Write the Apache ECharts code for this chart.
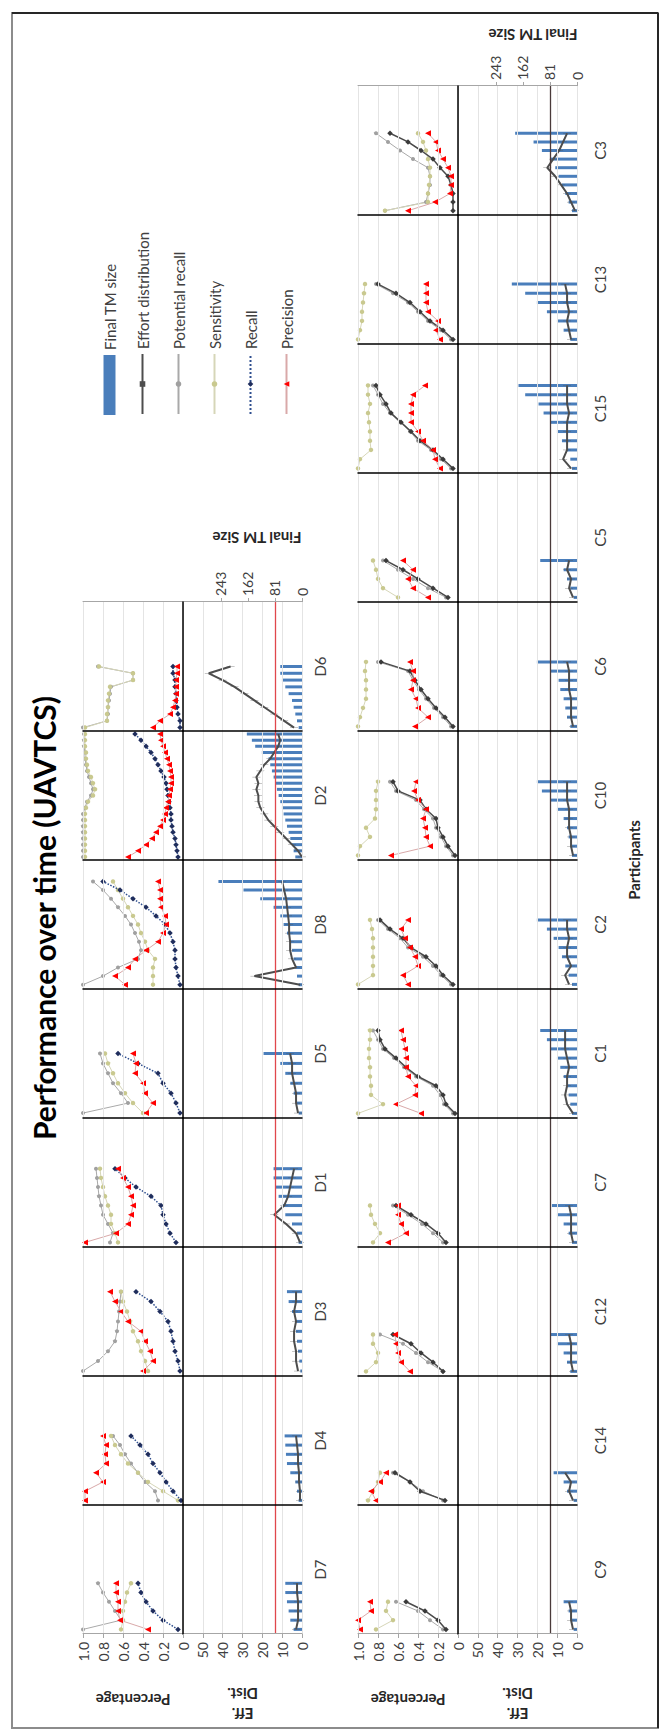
<!DOCTYPE html>
<html>
<head>
<meta charset="utf-8">
<script src="https://cdn.jsdelivr.net/npm/echarts@6/dist/echarts.min.js"></script>
<style>
  html, body { margin: 0; padding: 0; background: #fff; width: 662px; height: 1732px; overflow: hidden; }
  /* the landscape chart is laid out at 1732x662 and turned a quarter turn to fit the portrait page */
  #chart { position: absolute; left: 0; top: 0; width: 1732px; height: 662px;
           transform-origin: 0 0; transform: translate(0, 1732px) rotate(-90deg); }
</style>
</head>
<body>
<div id="chart"></div>
<script>
// ---- participants (one panel each) ----
const topParticipants = ['D7', 'D4', 'D3', 'D1', 'D5', 'D8', 'D2', 'D6'];
const bottomParticipants = ['C9', 'C14', 'C12', 'C7', 'C1', 'C2', 'C10', 'C6', 'C5', 'C15', 'C13', 'C3'];

// number of time slots on each panel's time axis
const topSlots = [14, 14, 13, 14, 13, 15, 21, 19];
const bottomSlots = [14, 14, 14, 14, 14, 14, 14, 14, 14, 14, 14, 15];

// ---- axis ticks ----
const percentageTicks = [0, 0.2, 0.4, 0.6, 0.8, 1.0];
const effortTicks = [0, 10, 20, 30, 40, 50];
const tmSizeTicks = [0, 81, 162, 243];
const tmSizeReference = 81;

// ---- top row (D participants) ----
const tmSizeTop = [
  [25, 35, 40, 45, 50, 50],
  [10, 15, 20, 35, 45, 48, 50, 52],
  [5, 8, 12, 15, 18, 20, 30, 40, 45],
  [10, 15, 30, 50, 60, 70, 80, 85, 85],
  [10, 15, 25, 35, 50, 65, 115],
  [10, 15, 20, 25, 30, 35, 45, 55, 65, 85, 125, 175, 250],
  [20, 25, 30, 35, 40, 45, 50, 55, 60, 65, 70, 75, 80, 85, 90, 95, 100, 120, 140, 150, 165],
  [10, 15, 20, 25, 30, 40, 50, 60, 65, 65]
];
const effortTop = [
  [3, 2, 2, 2, 2.5, 2.5],
  [1, 1, 1.5, 1.5, 2, 2, 2.5, 3],
  [2, 3, 3, 4, 4, 3, 4, 3, 3],
  [1, 3, 8, 14, 9, 7, 6, 5, 4],
  [2, 3, 3, 4, 5, 5, 6],
  [1, 24, 3, 5, 6, 6, 6.5, 6.5, 7, 7.5, 8, 9, 10],
  [0, 2, 5, 8, 11, 14, 17, 19, 21, 22, 22, 23, 22, 23, 21, 19, 16, 14, 12, 11, 12],
  [4, 9, 14, 19, 24, 29, 34, 40, 47, 36]
];
const potentialTop = [
  [1.0, 0.62, 0.68, 0.74, 0.8, 0.85],
  [0.25, 0.28, 0.38, 0.45, 0.52, 0.58, 0.63, 0.7],
  [1.0, 0.85, 0.75, 0.68, 0.66, 0.65, 0.64, 0.63, 0.62],
  [0.73, 0.7, 0.75, 0.8, 0.82, 0.84, 0.85, 0.86, 0.87],
  [1.0, 0.55, 0.62, 0.7, 0.75, 0.8, 0.83],
  [1.0, 0.8, 0.65, 0.45, 0.42, 0.44, 0.48, 0.52, 0.58, 0.65, 0.72, 0.8, 0.9],
  [1, 1, 1, 1, 1, 1, 1, 1, 0.98, 0.96, 0.92, 0.9, 0.92, 0.94, 0.96, 0.97, 0.98, 0.98, 0.99, 0.99, 0.99],
  [1.0, 0.76, 0.75, 0.75, 0.74, 0.73, 0.72, 0.5, 0.5, 0.85]
];
const sensitivityTop = [
  [0.62, 0.6, 0.6, 0.58, 0.56, 0.52],
  [0.05, 0.2, 0.35, 0.45, 0.55, 0.62, 0.68, 0.72],
  [0.35, 0.38, 0.42, 0.45, 0.5, 0.53, 0.56, 0.6, 0.62],
  [0.65, 0.68, 0.72, 0.72, 0.75, 0.78, 0.8, 0.82, 0.83],
  [0.4, 0.5, 0.58, 0.65, 0.7, 0.75, 0.78],
  [0.3, 0.3, 0.3, 0.28, 0.35, 0.38, 0.42, 0.45, 0.5, 0.55, 0.6, 0.65, 0.7],
  [0.98, 0.98, 0.98, 0.98, 0.98, 0.98, 0.98, 0.98, 0.97, 0.95, 0.9, 0.88, 0.9, 0.92, 0.95, 0.96, 0.97, 0.97, 0.98, 0.98, 0.98],
  [0.98, 0.76, 0.76, 0.75, 0.75, 0.74, 0.73, 0.5, 0.5, 0.84]
];
const recallTop = [
  [0.05, 0.2, 0.3, 0.37, 0.42, 0.45],
  [0.02, 0.1, 0.17, 0.23, 0.3, 0.35, 0.43, 0.52],
  [0.03, 0.05, 0.08, 0.1, 0.12, 0.15, 0.23, 0.32, 0.47],
  [0.07, 0.13, 0.17, 0.2, 0.22, 0.32, 0.47, 0.58, 0.68],
  [0.03, 0.07, 0.12, 0.2, 0.25, 0.45, 0.65],
  [0.03, 0.05, 0.07, 0.08, 0.08, 0.1, 0.13, 0.18, 0.27, 0.37, 0.5, 0.63, 0.8],
  [0.05, 0.06, 0.07, 0.08, 0.1, 0.11, 0.12, 0.12, 0.13, 0.14, 0.15, 0.16, 0.17, 0.19, 0.22, 0.25, 0.28, 0.32, 0.37, 0.42, 0.48],
  [0.03, 0.03, 0.05, 0.06, 0.07, 0.07, 0.08, 0.08, 0.1, 0.1]
];
const precisionTop = [
  [0.35, 0.63, 0.65, 0.65, 0.67, 0.67],
  [0.98, 0.98, 0.8, 0.87, 0.77, 0.78, 0.77, 0.8],
  [0.4, 0.3, 0.33, 0.38, 0.42, 0.55, 0.62, 0.68, 0.73],
  [0.98, 0.67, 0.55, 0.52, 0.5, 0.52, 0.55, 0.6, 0.65],
  [0.37, 0.3, 0.38, 0.4, 0.48, 0.47, 0.5],
  [0.58, 0.68, 0.55, 0.48, 0.37, 0.25, 0.2, 0.17, 0.18, 0.22, 0.23, 0.23, 0.25],
  [0.55, 0.45, 0.37, 0.31, 0.27, 0.23, 0.2, 0.18, 0.17, 0.15, 0.14, 0.13, 0.12, 0.12, 0.13, 0.14, 0.16, 0.18, 0.2, 0.22, 0.23],
  [0.3, 0.23, 0.13, 0.1, 0.08, 0.07, 0.07, 0.07, 0.06, 0.06]
];

// ---- bottom row (C participants) ----
const tmSizeBottom = [
  [10, 15, 25, 40],
  [10, 30, 40, 70],
  [20, 30, 40, 60, 80],
  [15, 25, 40, 60, 75],
  [15, 20, 25, 30, 40, 50, 60, 80, 90, 110],
  [15, 25, 35, 45, 55, 70, 90, 120],
  [15, 20, 25, 30, 40, 60, 80, 105, 120],
  [20, 30, 35, 40, 50, 55, 80, 120],
  [10, 20, 30, 40, 110],
  [15, 20, 30, 45, 60, 80, 100, 115, 155, 175],
  [20, 40, 60, 90, 120, 155, 195],
  [15, 25, 35, 45, 55, 65, 80, 105, 130, 185]
];
const effortBottom = [
  [2, 3, 3, 4],
  [2, 4, 3, 6],
  [2, 3, 3, 3, 4],
  [2, 3, 3, 3, 4],
  [2, 5, 6, 5, 5, 4, 5, 6, 6, 6],
  [4, 6, 3, 5, 5, 4, 5, 5],
  [2, 3, 3, 4, 4, 4, 5, 5, 5],
  [2, 3, 3, 3, 4, 4, 4, 5],
  [2, 4, 3, 5, 4],
  [3, 7, 5, 5, 5, 5, 4, 5, 5, 5],
  [3, 4, 5, 4, 5, 5, 6],
  [1, 3, 5, 8, 11, 15, 12, 9, 7, 5]
];
const potentialBottom = [
  [0.15, 0.28, 0.4, 0.62],
  [0.15, 0.35, 0.48, 0.65],
  [0.15, 0.3, 0.42, 0.55, 0.78],
  [0.15, 0.25, 0.36, 0.5, 0.65],
  [0.05, 0.14, 0.18, 0.25, 0.42, 0.54, 0.64, 0.75, 0.8, 0.85],
  [0.07, 0.17, 0.25, 0.35, 0.5, 0.58, 0.7, 0.8],
  [0.05, 0.12, 0.17, 0.22, 0.25, 0.34, 0.42, 0.62, 0.68],
  [0.07, 0.15, 0.24, 0.32, 0.39, 0.45, 0.5, 0.8],
  [0.12, 0.3, 0.45, 0.6, 0.75],
  [0.07, 0.17, 0.27, 0.4, 0.48, 0.58, 0.68, 0.75, 0.8, 0.85],
  [0.07, 0.17, 0.3, 0.4, 0.5, 0.65, 0.82],
  [0.73, 0.32, 0.3, 0.28, 0.28, 0.3, 0.45, 0.58, 0.7, 0.82]
];
const sensitivityBottom = [
  [0.82, 0.65, 0.72, 0.7],
  [0.9, 0.85, 0.8, 0.78],
  [0.92, 0.82, 0.8, 0.85, 0.85],
  [0.85, 0.78, 0.83, 0.87, 0.88],
  [1.0, 0.75, 0.87, 0.87, 0.88, 0.88, 0.89, 0.89, 0.88, 0.88],
  [1.0, 0.85, 0.85, 0.85, 0.85, 0.85, 0.86, 0.88],
  [1.0, 0.98, 0.88, 0.92, 0.83, 0.82, 0.82, 0.82, 0.8],
  [1.0, 0.98, 0.95, 0.92, 0.92, 0.92, 0.93, 0.92],
  [0.6, 0.75, 0.8, 0.82, 0.85],
  [1.0, 0.98, 0.87, 0.88, 0.88, 0.89, 0.9, 0.88, 0.9, 0.9],
  [1.0, 0.98, 0.96, 0.96, 0.95, 0.94, 0.93],
  [0.73, 0.3, 0.3, 0.29, 0.28, 0.28, 0.3, 0.32, 0.35, 0.4]
];
const recallBottom = [
  [0.12, 0.2, 0.33, 0.52],
  [0.13, 0.38, 0.48, 0.63],
  [0.15, 0.25, 0.37, 0.47, 0.65],
  [0.12, 0.2, 0.32, 0.47, 0.62],
  [0.03, 0.12, 0.15, 0.22, 0.4, 0.52, 0.62, 0.73, 0.78, 0.8],
  [0.05, 0.15, 0.22, 0.32, 0.47, 0.55, 0.68, 0.78],
  [0.03, 0.1, 0.15, 0.2, 0.22, 0.32, 0.38, 0.6, 0.65],
  [0.05, 0.13, 0.22, 0.3, 0.37, 0.43, 0.48, 0.77],
  [0.1, 0.25, 0.4, 0.55, 0.72],
  [0.05, 0.15, 0.25, 0.38, 0.47, 0.57, 0.67, 0.72, 0.78, 0.82],
  [0.05, 0.15, 0.28, 0.38, 0.48, 0.62, 0.8],
  [0.05, 0.05, 0.05, 0.07, 0.1, 0.18, 0.25, 0.37, 0.5, 0.68]
];
const precisionBottom = [
  [0.98, 1.0, 0.87, 0.88],
  [0.82, 0.87, 0.78, 0.72],
  [0.48, 0.57, 0.6, 0.62, 0.63],
  [0.7, 0.52, 0.57, 0.6, 0.6],
  [0.37, 0.62, 0.43, 0.42, 0.5, 0.52, 0.52, 0.53, 0.55, 0.57],
  [0.5, 0.55, 0.4, 0.43, 0.48, 0.53, 0.57, 0.5],
  [0.67, 0.28, 0.32, 0.33, 0.35, 0.32, 0.4, 0.44, 0.42],
  [0.43, 0.3, 0.4, 0.42, 0.47, 0.45, 0.45, 0.48],
  [0.3, 0.45, 0.5, 0.45, 0.55],
  [0.18, 0.23, 0.25, 0.35, 0.4, 0.47, 0.47, 0.47, 0.45, 0.33],
  [0.18, 0.22, 0.2, 0.3, 0.32, 0.32, 0.32],
  [0.5, 0.23, 0.08, 0.07, 0.07, 0.1, 0.15, 0.2, 0.22, 0.3]
];

// ---- drawing ----
const FONT = 'Lato, "Open Sans", sans-serif';
const TEXT = '#404040';
const PCT_MAX = percentageTicks[percentageTicks.length - 1];
const EFF_MAX = effortTicks[effortTicks.length - 1] + 10;   // one empty band above the labelled range
const TM_MAX = 356;
const EFFORT_MARK = 'path://M0,0H2V10H0Z';                // thin upright dash crossing the effort line

const grids = [], xAxes = [], yAxes = [], series = [];

function buildRow(names, slots, rows, layout, look) {
  const n = names.length;
  names.forEach((name, i) => {
    const left = layout.left + i * layout.panelW;
    const first = i === 0, last = i === n - 1;
    const cats = Array.from({ length: slots[i] }, (_, k) => String(k + 1));

    const gP = grids.length;
    grids.push({ left: left, top: layout.top, width: layout.panelW, height: layout.pctH });
    const gE = grids.length;
    grids.push({ left: left, top: layout.top + layout.pctH, width: layout.panelW, height: layout.effH });

    const xP = xAxes.length;
    xAxes.push({ type: 'category', gridIndex: gP, data: cats, boundaryGap: true, z: 6,
      axisLine: { show: true, lineStyle: { color: '#000', width: 1.5 } },
      axisTick: { show: false }, axisLabel: { show: false } });
    const xE = xAxes.length;
    xAxes.push({ type: 'category', gridIndex: gE, data: cats, boundaryGap: true,
      axisLine: { show: true, lineStyle: { color: '#bfbfbf', width: 1 } },
      axisTick: { show: false }, axisLabel: { show: false },
      name: name, nameLocation: 'middle', nameGap: layout.nameGap,
      nameTextStyle: { fontSize: 15, color: TEXT, fontFamily: FONT } });

    const sep = first ? { color: '#a6a6a6', width: 1 } : { color: '#000', width: 1.5 };
    const tickStyle = { show: first, length: 4, lineStyle: { color: '#a6a6a6' } };
    const labelStyle = { show: first, fontSize: 14, color: TEXT, fontFamily: FONT, margin: 8 };
    const grid = { show: true, lineStyle: { color: '#e4e4e4', width: 1 } };

    const yP = yAxes.length;
    yAxes.push({ type: 'value', gridIndex: gP, min: 0, max: PCT_MAX, interval: 0.2, z: 6,
      axisLine: { show: true, lineStyle: sep }, axisTick: tickStyle,
      axisLabel: Object.assign({}, labelStyle, { formatter: v => v === 0 ? '0' : v.toFixed(1) }),
      splitLine: grid,
      name: first ? 'Percentage' : '', nameLocation: 'middle', nameRotate: 90, nameGap: 58,
      nameTextStyle: { fontSize: 15, fontWeight: 'bold', color: '#262626', fontFamily: FONT } });
    const yE = yAxes.length;
    yAxes.push({ type: 'value', gridIndex: gE, min: 0, max: EFF_MAX, interval: 10, z: 6,
      axisLine: { show: true, lineStyle: sep }, axisTick: tickStyle,
      axisLabel: Object.assign({}, labelStyle, { formatter: v => v > effortTicks[effortTicks.length - 1] ? '' : String(v) }),
      splitLine: grid,
      name: first ? 'Eff.\nDist.' : '', nameLocation: 'middle', nameRotate: 90, nameGap: 50,
      nameTextStyle: { fontSize: 15, fontWeight: 'bold', color: '#262626', fontFamily: FONT, lineHeight: 20 } });
    const yT = yAxes.length;
    yAxes.push({ type: 'value', gridIndex: gE, position: 'right', min: 0, max: TM_MAX, interval: 81,
      axisLine: { show: last, lineStyle: { color: '#a6a6a6' } },
      axisTick: { show: last, length: 4, customValues: tmSizeTicks, lineStyle: { color: '#a6a6a6' } },
      axisLabel: { show: last, customValues: tmSizeTicks, fontSize: 14, color: TEXT, fontFamily: FONT, margin: 6,
        formatter: v => tmSizeTicks.indexOf(v) >= 0 ? String(v) : '' },
      splitLine: { show: false } });
    if (last) {
      yAxes.push({ type: 'value', gridIndex: gP, position: 'right', min: 0, max: PCT_MAX,
        axisLine: { show: true, lineStyle: { color: '#a6a6a6' } },
        axisTick: { show: false }, axisLabel: { show: false }, splitLine: { show: false } });
    }

    series.push({ name: 'Final TM size', type: 'bar', xAxisIndex: xE, yAxisIndex: yT,
      data: rows.tm[i], barWidth: 3, itemStyle: { color: '#4a7ebb' }, z: 2,
      markLine: { silent: true, symbol: 'none', label: { show: false },
        lineStyle: { color: look.refColor, width: 1.3, type: 'solid' },
        data: [{ yAxis: tmSizeReference }] } });
    series.push({ name: 'Effort distribution', type: 'line', xAxisIndex: xE, yAxisIndex: yE,
      data: rows.effort[i], symbol: EFFORT_MARK, symbolSize: [1.6, 8], symbolKeepAspect: true,
      showAllSymbol: true, z: 3,
      lineStyle: { color: '#4d4d4d', width: 2 }, itemStyle: { color: '#4d4d4d' } });
    series.push({ name: 'Potential recall', type: 'line', xAxisIndex: xP, yAxisIndex: yP,
      data: rows.potential[i], symbol: 'circle', symbolSize: 4, showAllSymbol: true, z: 3,
      lineStyle: { color: '#a9a9a9', width: 1 }, itemStyle: { color: '#a0a0a0' } });
    series.push({ name: 'Sensitivity', type: 'line', xAxisIndex: xP, yAxisIndex: yP,
      data: rows.sensitivity[i], symbol: 'circle', symbolSize: 4.5, showAllSymbol: true, z: 3,
      lineStyle: { color: '#d6d6b8', width: 1 }, itemStyle: { color: '#c9c98f' } });
    series.push({ name: 'Recall', type: 'line', xAxisIndex: xP, yAxisIndex: yP,
      data: rows.recall[i], symbol: 'diamond', symbolSize: 5.5, showAllSymbol: true, z: 4,
      lineStyle: look.recallLine, itemStyle: { color: look.recallMark } });
    series.push({ name: 'Precision', type: 'line', xAxisIndex: xP, yAxisIndex: yP,
      data: rows.precision[i], symbol: 'triangle', symbolSize: 6, showAllSymbol: true, z: 5,
      lineStyle: { color: '#d9a9a9', width: 1 }, itemStyle: { color: '#ff0000' } });
  });
}

buildRow(topParticipants, topSlots,
  { tm: tmSizeTop, effort: effortTop, potential: potentialTop, sensitivity: sensitivityTop, recall: recallTop, precision: precisionTop },
  { left: 98, panelW: 129, top: 83, pctH: 100, effH: 119, nameGap: 10 },
  { refColor: '#e0474c', recallLine: { color: '#2f4f8f', width: 1.5, type: 'dotted' }, recallMark: '#1f2d5c' });

buildRow(bottomParticipants, bottomSlots,
  { tm: tmSizeBottom, effort: effortBottom, potential: potentialBottom, sensitivity: sensitivityBottom, recall: recallBottom, precision: precisionBottom },
  { left: 98, panelW: 129, top: 358, pctH: 100, effH: 119, nameGap: 15 },
  { refColor: '#4a3a3a', recallLine: { color: '#4a4a4a', width: 1.5, type: 'solid' }, recallMark: '#3a3a3a' });

const legendText = { fontSize: 15, color: TEXT, fontFamily: FONT };
const chart = echarts.init(document.getElementById('chart'), null, { renderer: 'svg', width: 1732, height: 662 });
chart.setOption({
  animation: false,
  backgroundColor: '#fff',
  textStyle: { fontFamily: FONT },
  grid: grids,
  xAxis: xAxes,
  yAxis: yAxes,
  series: series,
  legend: [
    { orient: 'vertical', left: 1312, top: 97, itemWidth: 60, itemHeight: 12, selectedMode: false,
      textStyle: legendText, data: [{ name: 'Final TM size', icon: 'rect' }] },
    { orient: 'vertical', left: 1312, top: 130, itemWidth: 60, itemHeight: 7, itemGap: 21, selectedMode: false,
      textStyle: legendText,
      data: ['Effort distribution', 'Potential recall', 'Sensitivity', 'Recall', 'Precision'] }
  ],
  graphic: [
    { type: 'rect', silent: true, shape: { x: 4, y: 12, width: 1715, height: 646 },
      style: { fill: 'none', stroke: '#8c8c8c', lineWidth: 2 } },
    { type: 'line', silent: true, shape: { x1: 1719, y1: 12, x2: 1719, y2: 658 }, style: { stroke: '#262626', lineWidth: 2 } },
    { type: 'line', silent: true, shape: { x1: 4, y1: 658, x2: 1719, y2: 658 }, style: { stroke: '#262626', lineWidth: 2 } },
    { type: 'text', silent: true, x: 814, y: 44,
      style: { text: 'Performance over time (UAVTCS)', fontSize: 30, fontWeight: 'bold', fontFamily: FONT,
               fill: '#000', align: 'center', verticalAlign: 'middle' } },
    { type: 'text', silent: true, x: 872, y: 634,
      style: { text: 'Participants', fontSize: 15, fontWeight: 'bold', fontFamily: FONT,
               fill: '#262626', align: 'center', verticalAlign: 'middle' } },
    { type: 'text', silent: true, x: 1194, y: 257, rotation: Math.PI / 2,
      style: { text: 'Final TM Size', fontSize: 15, fontWeight: 'bold', fontFamily: FONT,
               fill: '#262626', align: 'center', verticalAlign: 'middle' } },
    { type: 'text', silent: true, x: 1697, y: 533, rotation: Math.PI / 2,
      style: { text: 'Final TM Size', fontSize: 15, fontWeight: 'bold', fontFamily: FONT,
               fill: '#262626', align: 'center', verticalAlign: 'middle' } }
  ]
});
</script>
</body>
</html>
